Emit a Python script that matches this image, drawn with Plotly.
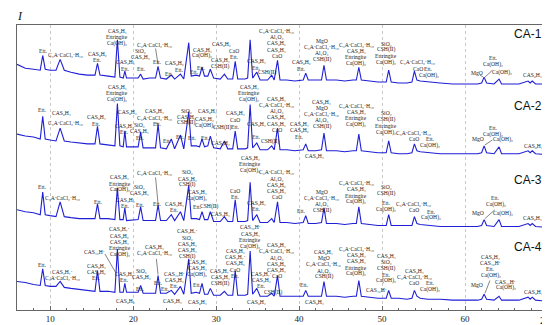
import plotly.graph_objects as go

# ---------------- data ----------------
two_theta = [
    6.0, 7.0, 8.0, 8.8, 9.1, 9.4, 10.0, 10.7, 11.2, 11.7,
    12.5, 13.5, 14.5, 15.4, 15.7, 16.0, 17.0, 17.8, 18.1, 18.4,
    18.8, 19.0, 19.2, 20.0, 20.6, 20.9, 21.2, 22.0, 22.7, 23.0,
    23.3, 24.0, 24.6, 25.0, 25.7, 26.1, 26.7, 27.0, 27.6, 28.0,
    28.3, 28.6, 29.0, 29.3, 29.7, 30.5, 31.0, 31.4, 32.0, 32.3,
    32.6, 33.5, 33.8, 34.1, 34.4, 34.9, 35.3, 36.2, 36.7, 37.0,
    37.4, 37.7, 38.5, 39.5, 40.5, 40.8, 41.1, 42.0, 42.7, 43.0,
    43.3, 44.5, 45.5, 46.5, 46.9, 47.2, 47.5, 48.5, 49.5, 50.5,
    50.8, 51.1, 52.0, 53.0, 53.6, 53.9, 54.2, 54.6, 55.5, 57.0,
    58.5, 60.0, 61.5, 62.0, 62.3, 62.6, 63.5, 64.1, 64.4, 65.5,
    66.5, 67.6, 67.85, 68.1, 68.5, 70.0,
]

ca1 = [
    250, 246, 245, 244, 259, 245, 244, 244, 255, 244,
    242, 240, 239, 239, 251, 239, 238, 237, 275, 237,
    236, 243, 236, 236, 236, 240, 235, 236, 236, 248,
    236, 235, 239, 235, 240, 235, 272, 238, 239, 238,
    247, 238, 238, 245, 236, 235, 240, 235, 235, 253,
    235, 235, 236, 275, 236, 242, 234, 234, 239, 234,
    254, 234, 234, 233, 234, 241, 234, 234, 234, 249,
    234, 234, 233, 234, 234, 247, 234, 233, 232, 232,
    244, 232, 231, 231, 232, 243, 234, 233, 232, 231,
    230, 230, 230, 231, 237, 231, 230, 235, 230, 230,
    230, 233, 231, 233, 230, 230,
]
ca2 = [
    179, 177, 176, 174, 197, 174, 173, 172, 185, 172,
    171, 170, 169, 169, 187, 169, 168, 167, 210, 167,
    166, 182, 166, 166, 166, 181, 165, 165, 165, 189,
    165, 164, 174, 164, 178, 164, 202, 167, 167, 166,
    174, 166, 167, 177, 165, 164, 172, 164, 164, 182,
    164, 164, 165, 209, 165, 170, 163, 163, 167, 163,
    185, 163, 163, 162, 163, 169, 162, 162, 163, 180,
    162, 162, 161, 162, 162, 179, 162, 161, 160, 160,
    172, 160, 159, 159, 160, 169, 162, 161, 160, 159,
    159, 159, 159, 160, 167, 160, 159, 166, 159, 159,
    159, 162, 160, 162, 159, 158,
]
ca3 = [
    102, 100, 99, 97, 120, 97, 96, 95, 110, 95,
    94, 93, 93, 93, 108, 93, 93, 92, 124, 92,
    92, 104, 91, 92, 92, 105, 91, 91, 91, 107,
    91, 91, 97, 91, 100, 91, 127, 93, 93, 92,
    100, 92, 92, 100, 90, 90, 95, 90, 90, 112,
    90, 90, 91, 130, 91, 97, 89, 89, 93, 89,
    110, 89, 89, 88, 89, 96, 88, 88, 89, 104,
    88, 88, 87, 88, 88, 105, 88, 87, 86, 86,
    97, 86, 86, 86, 86, 95, 88, 87, 86, 85,
    85, 85, 85, 86, 92, 86, 85, 92, 85, 85,
    85, 88, 86, 88, 85, 84,
]
ca4 = [
    29, 28, 26, 25, 42, 25, 24, 24, 29, 23,
    22, 21, 20, 19, 40, 19, 19, 18, 62, 18,
    18, 27, 18, 18, 18, 25, 17, 17, 17, 35,
    17, 17, 20, 16, 24, 16, 52, 17, 18, 17,
    27, 16, 16, 22, 15, 15, 19, 15, 15, 40,
    15, 15, 16, 60, 16, 22, 14, 14, 17, 14,
    35, 14, 14, 14, 14, 20, 14, 14, 14, 29,
    14, 14, 13, 14, 14, 30, 14, 13, 12, 12,
    20, 12, 12, 11, 12, 20, 14, 12, 11, 11,
    10, 10, 10, 11, 16, 11, 10, 14, 10, 10,
    10, 13, 11, 13, 10, 9,
]

sample_names = ["CA-1", "CA-2", "CA-3", "CA-4"]
sample_series = [ca1, ca2, ca3, ca4]
sample_label_y = [281, 208, 132, 64]

tick_values = [10, 20, 30, 40, 50, 60]
tick_labels = ["10", "20", "30", "40", "50", "60"]
axis_title = "2θ"

C3A = "C₃A·CaCl₂·H₁₀"
# phase labels: (2θ, intensity of first line, lines separated by |)
phase_labels = [
    # CA-1
    (9.2, 264, "Ett."), (11.8, 259, C3A), (15.7, 261, "CAS₆H₂|Ett."),
    (18.1, 284, "CAS₂H₄|Ettringite|Ca(OH)₂"), (19.1, 252, "CAS₂H₄|Ett."),
    (22.6, 270, C3A), (20.9, 264, "SiO₂|CAS₂H₄"), (21.0, 245, "Ett."),
    (22.9, 252, "Ett."), (24.4, 240, "Ett."), (25.0, 251, "CAS₆H₂"), (25.6, 244, "Ett."),
    (26.6, 292, "CAS₂H₄|CSH(I)|CaO|SiO₂"), (28.3, 265, "CAS₂H₄|Ca(OH)₂"),
    (28.2, 246, "Ett."), (27.4, 242, "Ett."), (30.7, 271, "CAS₆H₂"),
    (32.2, 264, "CaO|Ett."), (30.5, 254, "CAS₂H₄|CSH(II)"),
    (34.1, 292, "CAS₂H₄|Ettringite|Ca(OH)₂"),
    (37.3, 284, C3A + "|Al₂O₃|CAS₆H₂|CAS₂H₄|CaO"),
    (34.9, 253, "CAS₂H₄|Ett."), (36.1, 242, "CSH(II)"), (40.3, 252, "CAS₆H₂|Ett."),
    (42.7, 274, "MgO|" + C3A + "|Al₂O₃|CSH(II)"),
    (46.9, 270, C3A + "|CAS₂H₄|Ettringite|Ca(OH)₂"),
    (50.5, 271, "SiO₂|CSH(II)|Ettringite|Ca(OH)₂"),
    (54.3, 252, C3A + "|CaO"), (55.6, 245, "Ett.|Ca(OH)₂"),
    (61.5, 241, "MgO"), (63.4, 256, "Ett.|Ca(OH)₂"), (64.4, 242, "Ca(OH)₂"),
    (68.1, 239, "CAS₆H₄"),
    # CA-2
    (9.1, 204, "Ett."), (11.4, 200, "CAS₆H₄"), (11.8, 190, C3A),
    (15.6, 196, "CAS₆H₄|Ett."), (18.1, 227, "CAS₂H₄|Ettringite|Ca(OH)₂"),
    (19.3, 201, "CAS₆H₄"), (19.0, 187, "CAS₂H₄|Ett."), (20.8, 188, "SiO₂|CAS₂H₄"),
    (20.9, 175, "Ett."), (22.6, 202, "CAS₆H₄|" + C3A), (22.9, 189, "Ett."),
    (24.1, 172, "Ett."), (25.7, 176, "Ett."), (26.4, 203, "SiO₂|CAS₂H₄|CSH(II)"),
    (28.9, 203, "CAS₆H₄"), (28.6, 194, "CAS₂H₄|Ca(OH)₂"),
    (30.7, 186, "CSH(II)"), (27.1, 175, "Ett."), (28.7, 175, "Ett."), (30.5, 170, "CAS₆H₄"),
    (32.3, 200, "CAS₆H₄"), (32.3, 193, "CaO|Ett."),
    (34.0, 227, "CAS₂H₄|Ettringite|Ca(OH)₂"),
    (37.3, 215, "CAS₆H₄|" + C3A + "|Al₂O₃|CAS₆H₂|CAS₂H₄|CaO"),
    (34.9, 189, "CAS₆H₄"), (34.9, 176, "Ett."), (36.5, 171, "CSH(II)"),
    (40.1, 189, "CAS₆H₄|CAS₆H₂|Ett."), (41.9, 157, "CAS₆H₄"),
    (42.7, 212, "CAS₆H₄|MgO|" + C3A + "|Al₂O₃|CSH(II)"),
    (46.9, 208, C3A + "|CAS₂H₄|Ettringite|Ca(OH)₂"),
    (50.5, 200, "SiO₂|CSH(II)|Ettringite|Ca(OH)₂"),
    (53.8, 180, C3A + "|CaO"), (55.8, 174, "Ett.|Ca(OH)₂"), (61.6, 174, "MgO"),
    (63.4, 185, "Ett.|Ca(OH)₂"), (64.6, 173, "Ca(OH)₂"), (68.2, 167, "CAS₆H₄"),
    # CA-3
    (9.1, 125, "Ett."), (11.5, 114, C3A), (15.8, 110, "Ett."),
    (18.4, 135, "CAS₂H₄|Ettringite|Ca(OH)₂"), (19.1, 112, "CAS₂H₄|Ett."),
    (20.8, 125, "SiO₂|CAS₂H₄"), (20.9, 107, "Ett."), (22.6, 139, C3A),
    (22.9, 108, "Ett."), (25.0, 108, "CAS₂H₄|Ett."), (26.5, 140, "SiO₂|CAS₂H₄|CSH(I)"),
    (27.7, 120, "CAS₂H₄|Ca(OH)₂"), (27.7, 105, "Ett."), (29.2, 105, "CSH(II)"),
    (30.5, 98, "CAS₂H₄"), (32.3, 121, "CaO|Ett."),
    (34.1, 155, "CAS₂H₄|Ettringite|Ca(OH)₂"),
    (37.3, 140, C3A + "|Al₂O₃|CAS₆H₂|CAS₂H₄|CaO"), (34.9, 109, "CAS₂H₄|Ett."),
    (40.3, 101, "Ett."), (42.7, 120, "MgO|" + C3A + "|Al₂O₃|CSH(II)"),
    (46.9, 129, C3A + "|CAS₂H₄|Ettringite|Ca(OH)₂"),
    (50.5, 125, "SiO₂|CSH(II)"), (50.5, 109, "Ett.|Ca(OH)₂"),
    (53.8, 108, C3A + "|CaO"), (55.9, 100, "Ett.|Ca(OH)₂"), (61.6, 99, "MgO"),
    (63.7, 114, "Ett.|Ca(OH)₂"), (64.6, 98, "Ca(OH)₂"), (68.1, 94, "CAS₆H₄"),
    # CA-4
    (9.1, 46, "Ett."), (11.5, 39, "CAS₂H₇·|" + C3A), (15.6, 45, "CAS₆H₄|CAS₆H₂|Ett."),
    (15.4, 59, "CAS₁₂H·"), (18.4, 82, "CAS₂H₇·|CAS₆H₂|CAS₂H₄|Ettringite|Ca(OH)₂"),
    (18.9, 37, "CAS₂H₄|Ett."), (19.1, 9, "CAS₆H₄"), (21.0, 40, "SiO₂|CAS₂H₄"),
    (20.9, 21, "Ett."), (22.6, 64, "CAS₆H₄|" + C3A), (23.0, 27, "Ett."),
    (25.0, 37, "CAS₁₂H·|CAS₆H₄|Ett."), (23.9, 21, "Ett."), (24.7, 9, "CAS₂H₄"),
    (26.5, 80, "CAS₂H₇·|SiO₂|CAS₆H₄|CAS₂H₄|CSH(I)"),
    (27.7, 49, "CAS₆H₄|CAS₂H₄|Ca(OH)₂"), (27.7, 25, "Ett."), (27.7, 8, "CAS₆H₄"),
    (30.5, 40, "CAS₂H₇·|CAS₆H₄|CSH(II)"),
    (32.3, 60, "CAS₆H₄|CAS₂H₇·|CAS₆H₂|CaO|Ett."),
    (34.1, 84, "CAS₁₂H·|CAS₆H₄|Ettringite|Ca(OH)₂"),
    (37.3, 66, "CAS₆H₄|" + C3A + "|Al₂O₃|CAS₆H₂|CAS₂H₄|CaO"),
    (35.5, 37, "CAS₂H₇·|CAS₂H₄|Ett."), (36.8, 18, "CSH(II)"), (34.9, 8, "CAS₆H₄"),
    (40.7, 25, "Ett."), (41.9, 8, "CAS₆H₄"),
    (43.0, 59, "CAS₆H₄|MgO|" + C3A + "|Al₂O₃|CSH(II)"),
    (46.9, 62, C3A + "|CAS₆H₄|CAS₂H₄|Ettringite|Ca(OH)₂"),
    (50.5, 55, "CAS₆H₄|SiO₂|CSH(II)|Ett.|Ca(OH)₂"), (49.3, 20, "CAS₁₂H·"),
    (53.9, 40, "CAS₆H₄|" + C3A + "|CaO"), (55.8, 27, "Ett.|Ca(OH)₂"), (61.5, 25, "MgO"),
    (63.1, 54, "CAS₆H₄|CAS₁₂H·|Ett.|Ca(OH)₂"), (64.9, 29, "CAS₁₂H·|Ca(OH)₂"),
    (68.2, 18, "CAS₆H₄"),
]

# leader lines: (2θ start, I start, 2θ end, I end)
leaders = [
    (22.7, 266, 23.0, 250), (61.8, 239, 62.2, 237), (63.3, 244, 62.4, 237),
    (22.7, 190, 23.0, 190), (63.3, 173, 62.4, 168),
    (22.7, 135, 23.0, 108), (63.6, 102, 62.4, 93),
    (16.6, 57, 17.9, 38), (63.0, 30, 62.4, 17), (22.8, 52, 23.0, 36),
]

# ---------------- figure ----------------
fig = go.Figure()
for name, series in zip(sample_names, sample_series):
    fig.add_trace(go.Scatter(
        x=two_theta, y=series, mode="lines", name=name,
        line=dict(color="#1f1fd6", width=1.1), showlegend=False,
    ))

annotations = []
LINE_STEP = 6.2
for x, y, txt in phase_labels:
    for i, line in enumerate(txt.split("|")):
        annotations.append(dict(
            x=x, y=y, xref="x", yref="y", text=line, showarrow=False,
            yshift=-LINE_STEP * i, xanchor="center", yanchor="middle",
            font=dict(family="Liberation Serif", size=5.6, color="#222222"),
        ))
for name, ly in zip(sample_names, sample_label_y):
    annotations.append(dict(
        x=67.6, y=ly, xref="x", yref="y", text=name, showarrow=False,
        xanchor="center", yanchor="middle",
        font=dict(family="Liberation Sans", size=12, color="#111111"),
    ))
annotations.append(dict(
    x=0.005, y=1.03, xref="paper", yref="paper", text="<i>I</i>", showarrow=False,
    xanchor="center", yanchor="middle",
    font=dict(family="Liberation Serif", size=12, color="#111111"),
))
annotations.append(dict(
    x=0.995, y=-0.008, xref="paper", yref="paper", text=axis_title, showarrow=False,
    xanchor="center", yanchor="top",
    font=dict(family="Liberation Serif", size=11, color="#111111"),
))

shapes = [
    dict(type="line", xref="x", yref="y", x0=a, y0=b, x1=c, y1=d,
         line=dict(color="#333333", width=0.6))
    for a, b, c, d in leaders
]

fig.update_layout(
    width=550, height=325,
    margin=dict(l=9, r=9, t=17, b=18),
    paper_bgcolor="white", plot_bgcolor="white",
    annotations=annotations, shapes=shapes,
    xaxis=dict(
        range=[6, 70], tickvals=tick_values, ticktext=tick_labels,
        showgrid=True, gridcolor="#c8c8c8", griddash="dot", gridwidth=1,
        showline=True, linecolor="#666666", linewidth=1, mirror=True,
        ticks="inside", ticklen=4, tickcolor="#666666",
        minor=dict(dtick=2, ticks="inside", ticklen=2, tickcolor="#666666", showgrid=False),
        tickfont=dict(family="Liberation Serif", size=9, color="#222222"),
        zeroline=False,
    ),
    yaxis=dict(
        range=[0, 290], showticklabels=False, showgrid=False, ticks="",
        showline=True, linecolor="#666666", linewidth=1, mirror=True, zeroline=False,
    ),
)

fig.write_html("out.html")
